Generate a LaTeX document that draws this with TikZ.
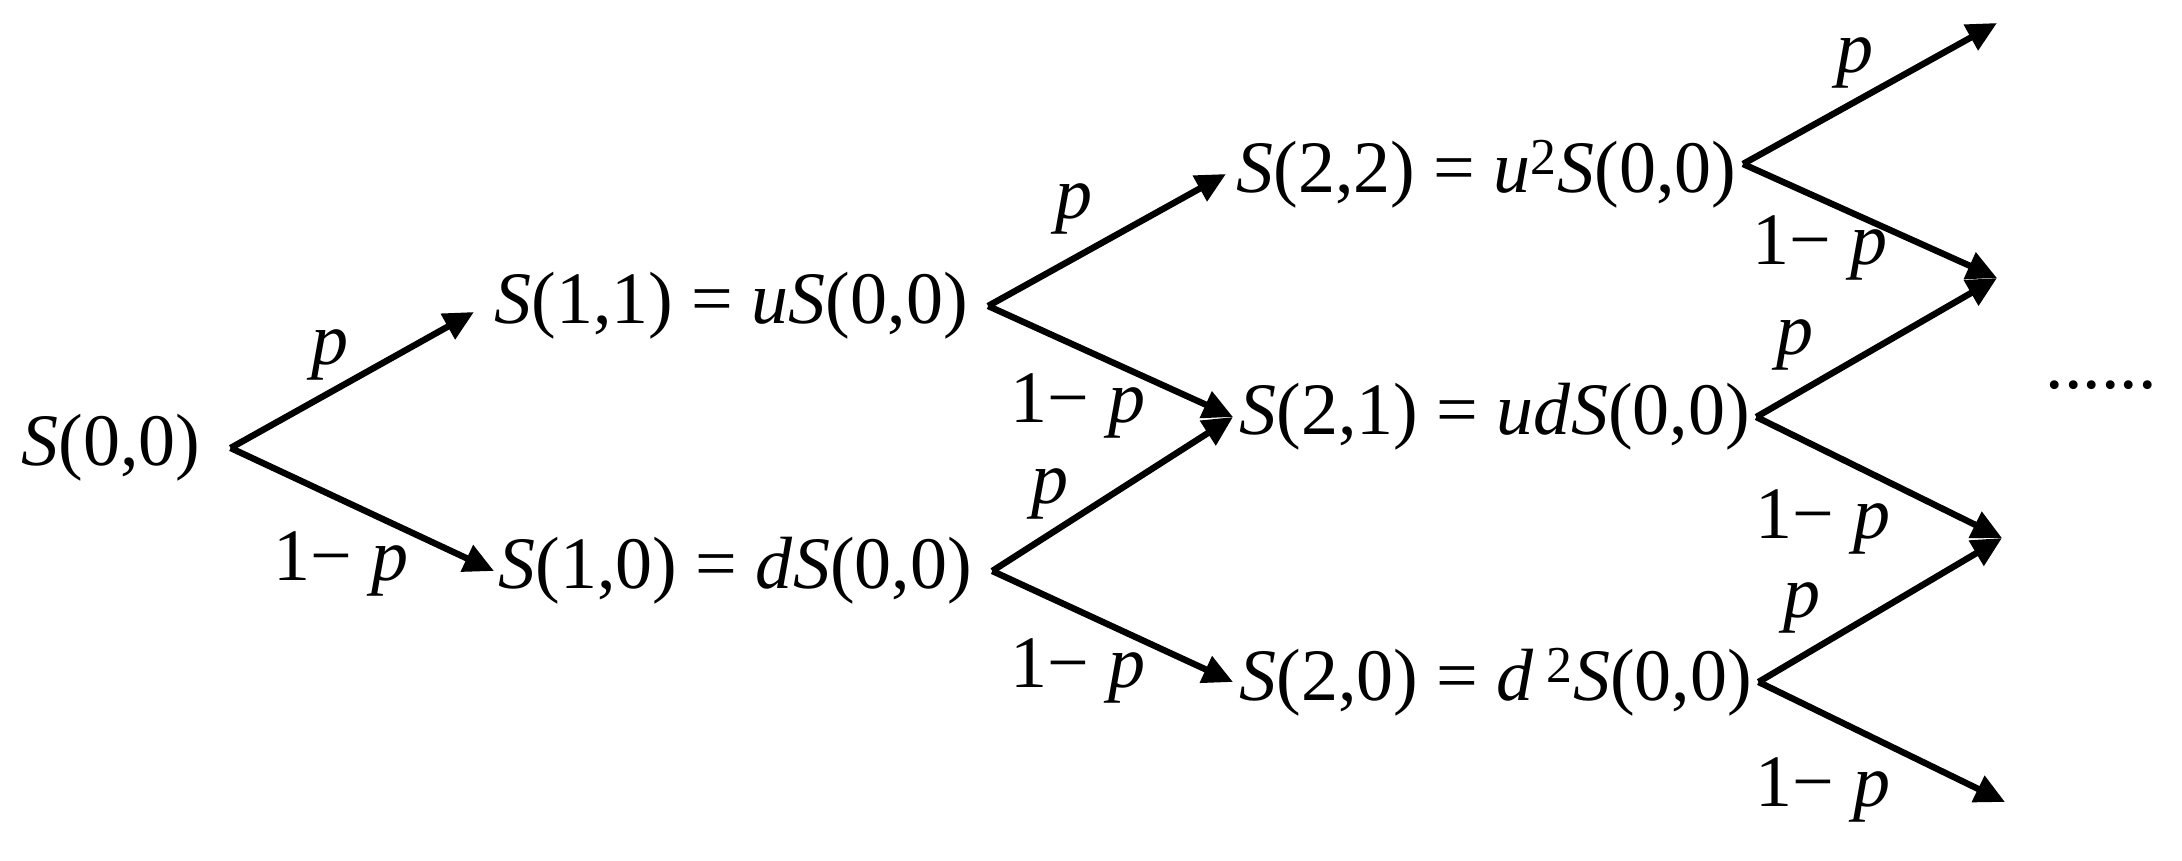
\documentclass[tikz,border=0pt]{standalone}
\usepackage{fontspec}
\setmainfont{Liberation Serif}
\usetikzlibrary{arrows.meta}
\newcommand{\V}[1]{\textit{#1}}
\begin{document}
\begin{tikzpicture}[x=0.5pt,y=-0.5pt,
  txt/.style={font=\fontsize{37}{40}\selectfont, inner sep=0pt},
  eq/.style={txt, anchor=west},
  arr/.style={line width=3.2pt, -{Triangle[length=15pt,width=14pt]}},
  ]
\useasboundingbox (0,0) rectangle (2182,861);
% nodes
\node[eq] (S00) at (21,448) {\V{S}(0,0)};
\node[eq] (S11) at (494,306) {\V{S}(1,1) = \V{u}\V{S}(0,0)};
\node[eq] (S10) at (498,571) {\V{S}(1,0) = \V{d}\V{S}(0,0)};
\node[eq] (S22) at (1236,174) {\V{S}(2,2) = \V{u}\textsuperscript{2}\V{S}(0,0)};
\node[eq] (S21) at (1239,417) {\V{S}(2,1) = \V{ud}\V{S}(0,0)};
\node[eq] (S20) at (1239,682) {\V{S}(2,0) = \V{d}\,\textsuperscript{2}\V{S}(0,0)};
\node[txt] (dots) at (2101,385) {......};
% free ends
\coordinate (T1) at (1997,23);
\coordinate (T2) at (1997,278);
\coordinate (T3) at (2002,538);
\coordinate (T4) at (2005,802);
% connectors
\draw[arr] ([xshift=15pt]S00.east) -- ([xshift=-10pt,yshift=-3pt]S11.west);
\draw[arr] ([xshift=15pt]S00.east) -- ([xshift=-2pt]S10.west);
\draw[arr] ([xshift=10pt]S11.east) -- ([xshift=-5pt]S22.west);
\draw[arr] ([xshift=10pt]S11.east) -- ([xshift=-3pt]S21.west);
\draw[arr] ([xshift=10pt]S10.east) -- ([xshift=-3pt]S21.west);
\draw[arr] ([xshift=10pt]S10.east) -- ([xshift=-3pt]S20.west);
\draw[arr] ([xshift=3pt,yshift=5pt]S22.east) -- (T1);
\draw[arr] ([xshift=3pt,yshift=5pt]S22.east) -- (T2);
\draw[arr] ([xshift=3pt]S21.east) -- (T2);
\draw[arr] ([xshift=3pt]S21.east) -- (T3);
\draw[arr] ([xshift=3pt]S20.east) -- (T3);
\draw[arr] ([xshift=3pt]S20.east) -- (T4);
% labels
\node[txt] (l1) at (330,355) {\V{p}};
\node[txt] (l2) at (341,564) {1− \V{p}};
\node[txt] (l3) at (1074,209) {\V{p}};
\node[txt] (l4) at (1078,406) {1− \V{p}};
\node[txt] (l5) at (1050,494) {\V{p}};
\node[txt] (l6) at (1078,671) {1− \V{p}};
\node[txt] (l7) at (1855,63) {\V{p}};
\node[txt] (l8) at (1820,248) {1− \V{p}};
\node[txt] (l9) at (1795,345) {\V{p}};
\node[txt] (l10) at (1823,522) {1− \V{p}};
\node[txt] (l11) at (1802,608) {\V{p}};
\node[txt] (l12) at (1823,790) {1− \V{p}};
\end{tikzpicture}
\end{document}
